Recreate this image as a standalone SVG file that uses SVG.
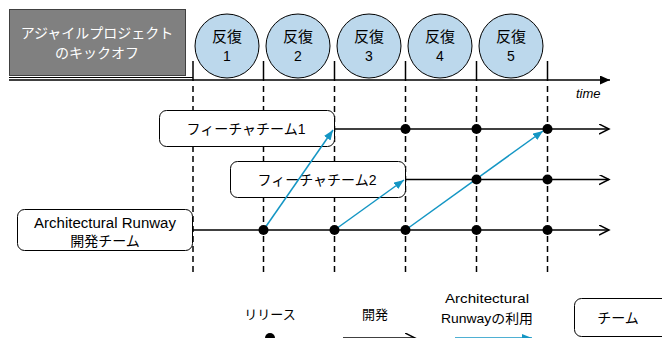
<svg xmlns="http://www.w3.org/2000/svg" width="662" height="338" viewBox="0 0 662 338">
<style>
text{font-family:"Liberation Sans","Noto Sans CJK JP",sans-serif;font-size:14px;fill:#000;text-anchor:middle}
.w{fill:#fff;font-size:14px}
.big{font-size:15px}
.leg{font-size:13px}
.it{font-style:italic;text-anchor:start;font-size:13px}
.box{fill:#fff;stroke:#000;stroke-width:1}
.circ{fill:#bcd8ec;stroke:#000;stroke-width:1}
.tick{stroke:#000;stroke-width:1.5}
.dash{stroke:#000;stroke-width:1.5;stroke-dasharray:6 4}
.row{stroke:#000;stroke-width:1.5;fill:none}
.blue{stroke:#1496c4;stroke-width:1.5;fill:none}
.dot{fill:#000}
</style>
<defs>
<marker id="open" markerWidth="12" markerHeight="12" refX="10" refY="5" orient="auto" markerUnits="userSpaceOnUse">
<path d="M0,0 L10,5 L0,10" fill="none" stroke="#000" stroke-width="1.5"/>
</marker>
<marker id="solid" markerWidth="12" markerHeight="10" refX="10" refY="4.5" orient="auto" markerUnits="userSpaceOnUse">
<path d="M0,0 L10,4.5 L0,9 Z" fill="#000"/>
</marker>
<marker id="bluehead" markerWidth="12" markerHeight="10" refX="10" refY="4" orient="auto" markerUnits="userSpaceOnUse">
<path d="M0,0 L10,4 L0,8 Z" fill="#1496c4"/>
</marker>
</defs>

<g id="kickoff">
<rect x="9.5" y="9.5" width="176" height="66" fill="#808080" stroke="#404040" stroke-width="1"/>
<text class="w" x="97" y="38">アジャイルプロジェクト</text>
<text class="w" x="97" y="58">のキックオフ</text>
</g>

<g id="iterations">
<g id="iter1"><circle class="circ" cx="227" cy="46" r="32"/><text class="big" x="227" y="42">反復</text><text x="227" y="61">1</text></g>
<g id="iter2"><circle class="circ" cx="298" cy="46" r="32"/><text class="big" x="298" y="42">反復</text><text x="298" y="61">2</text></g>
<g id="iter3"><circle class="circ" cx="369" cy="46" r="32"/><text class="big" x="369" y="42">反復</text><text x="369" y="61">3</text></g>
<g id="iter4"><circle class="circ" cx="440" cy="46" r="32"/><text class="big" x="440" y="42">反復</text><text x="440" y="61">4</text></g>
<g id="iter5"><circle class="circ" cx="511" cy="46" r="32"/><text class="big" x="511" y="42">反復</text><text x="511" y="61">5</text></g>
</g>

<g id="timeline">
<line x1="9" y1="77.5" x2="193" y2="77.5" stroke="#000" stroke-width="1"/>
<line x1="9" y1="80" x2="610" y2="80" stroke="#000" stroke-width="1.5" marker-end="url(#solid)"/>
<text class="it" x="576" y="98">time</text>
<g>
<line class="tick" x1="193" y1="61" x2="193" y2="81"/>
<line class="tick" x1="263.5" y1="61" x2="263.5" y2="81"/>
<line class="tick" x1="334.5" y1="61" x2="334.5" y2="81"/>
<line class="tick" x1="405.5" y1="61" x2="405.5" y2="81"/>
<line class="tick" x1="476.5" y1="61" x2="476.5" y2="81"/>
<line class="tick" x1="547.5" y1="61" x2="547.5" y2="81"/>
</g>
<g>
<line class="dash" x1="193" y1="86" x2="193" y2="273"/>
<line class="dash" x1="263.5" y1="86" x2="263.5" y2="273"/>
<line class="dash" x1="334.5" y1="86" x2="334.5" y2="273"/>
<line class="dash" x1="405.5" y1="86" x2="405.5" y2="273"/>
<line class="dash" x1="476.5" y1="86" x2="476.5" y2="273"/>
<line class="dash" x1="547.5" y1="86" x2="547.5" y2="273"/>
</g>
</g>

<g id="team1">
<rect class="box" x="159.5" y="110.5" width="175" height="36" rx="7"/>
<text x="246" y="134">フィーチャチーム1</text>
</g>
<g id="team2">
<rect class="box" x="230.5" y="161.5" width="175" height="36" rx="7"/>
<text x="317" y="185">フィーチャチーム2</text>
</g>
<g id="runway">
<rect class="box" x="17.5" y="209.5" width="175" height="41" rx="7"/>
<text x="105" y="228" textLength="142" lengthAdjust="spacingAndGlyphs">Architectural Runway</text>
<text x="105" y="246">開発チーム</text>
</g>

<g id="connectors">
<line class="row" x1="334" y1="129" x2="609" y2="129" marker-end="url(#open)"/>
<line class="row" x1="405" y1="179.5" x2="609" y2="179.5" marker-end="url(#open)"/>
<line class="row" x1="193" y1="230" x2="609" y2="230" marker-end="url(#open)"/>
<line class="blue" x1="263.5" y1="230" x2="333" y2="130" marker-end="url(#bluehead)"/>
<line class="blue" x1="334.5" y1="230" x2="404" y2="180" marker-end="url(#bluehead)"/>
<line class="blue" x1="405.5" y1="230" x2="543" y2="131" marker-end="url(#bluehead)"/>
</g>

<g id="milestones">
<circle class="dot" cx="405.5" cy="129" r="5"/>
<circle class="dot" cx="476.5" cy="129" r="5"/>
<circle class="dot" cx="547.5" cy="129" r="5"/>
<circle class="dot" cx="476.5" cy="179.5" r="5"/>
<circle class="dot" cx="547.5" cy="179.5" r="5"/>
<circle class="dot" cx="263.5" cy="230" r="5"/>
<circle class="dot" cx="334.5" cy="230" r="5"/>
<circle class="dot" cx="405.5" cy="230" r="5"/>
<circle class="dot" cx="476.5" cy="230" r="5"/>
<circle class="dot" cx="547.5" cy="230" r="5"/>
</g>

<g id="legend">
<g id="legend-release">
<text class="leg" x="270" y="319">リリース</text>
<circle class="dot" cx="270" cy="338" r="5"/>
</g>
<g id="legend-dev">
<text class="leg" x="375" y="319">開発</text>
<line class="row" x1="343" y1="338" x2="415" y2="338" marker-end="url(#open)"/>
</g>
<g id="legend-use">
<text class="leg" x="487" y="303" textLength="84" lengthAdjust="spacingAndGlyphs">Architectural</text>
<text class="leg" x="487" y="323" textLength="92" lengthAdjust="spacingAndGlyphs">Runwayの利用</text>
<line class="blue" x1="455" y1="338" x2="532" y2="338" marker-end="url(#bluehead)"/>
</g>
<g id="legend-team">
<rect class="box" x="574.5" y="298.5" width="100" height="38" rx="7"/>
<text x="618" y="323">チーム</text>
</g>
</g>
</svg>
